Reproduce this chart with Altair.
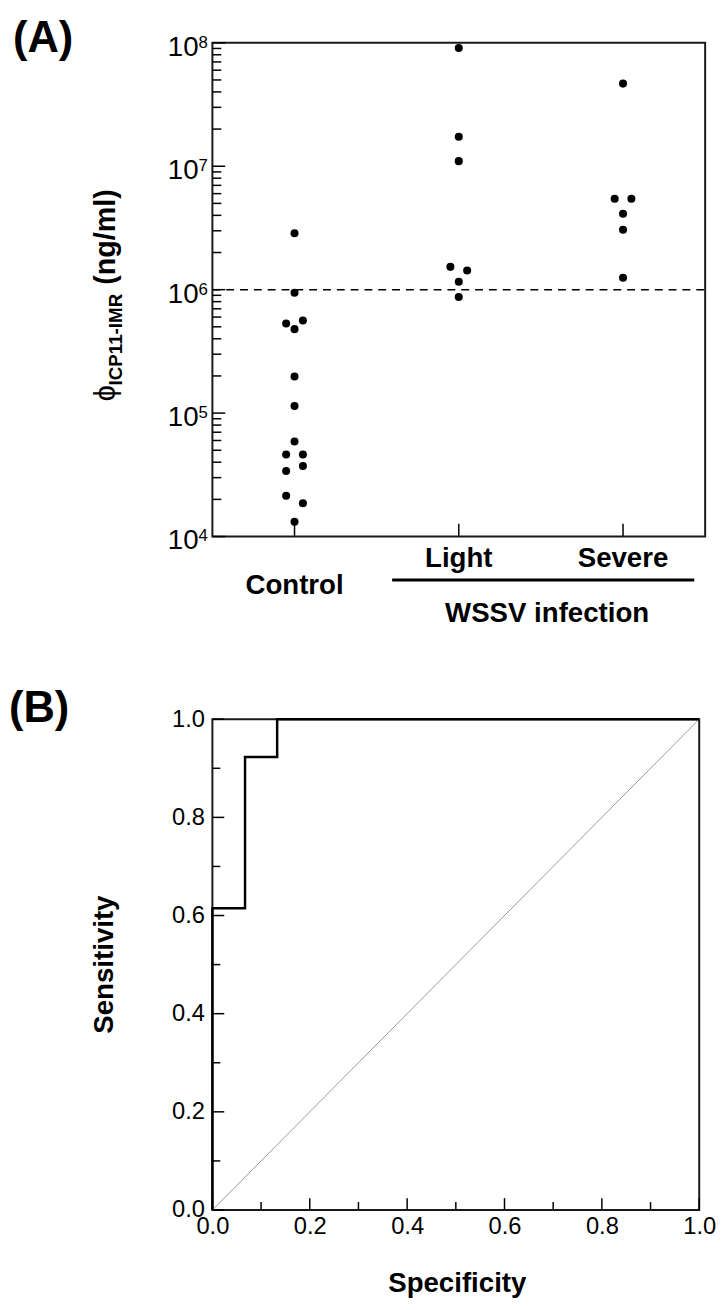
import altair as alt
import pandas as pd

FONT = "Liberation Sans"

# ---------------- Panel A data ----------------
groups = ["Control", "Light", "Severe"]
control_vals = [2.86e6, 9.46e5, 5.31e5, 4.79e5, 5.62e5, 1.98e5, 1.14e5, 5.89e4,
                4.61e4, 4.61e4, 3.39e4, 3.72e4, 2.14e4, 1.86e4, 1.32e4]
control_side = [0, 0, -1, 0, 1, 0, 0, 0, -1, 1, -1, 1, -1, 1, 0]
light_vals = [9.07e7, 1.73e7, 1.10e7, 1.53e6, 1.43e6, 1.16e6, 8.74e5]
light_side = [0, 0, 0, -1, 1, 0, 0]
severe_vals = [4.67e7, 5.45e6, 5.45e6, 4.13e6, 3.06e6, 1.25e6]
severe_side = [0, -1, 1, 0, 0, 0]
cutoff = [1.0e6]
decade_exps = [4, 5, 6, 7, 8]
minor_mult = [2, 3, 4, 5, 6, 7, 8, 9]

# ---------------- Panel B data ----------------
roc_fpr = [0.0, 0.0, 0.067, 0.067, 0.133, 0.133, 1.0]
roc_tpr = [0.0, 0.615, 0.615, 0.923, 0.923, 1.0, 1.0]
diag = [0.0, 1.0]
b_major = [0.0, 0.2, 0.4, 0.6, 0.8, 1.0]
b_minor = [0.1, 0.3, 0.5, 0.7, 0.9]

# ---------------- Panel A ----------------
WA, HA = 499, 500
rows = []
for g, vals, sides in [("Control", control_vals, control_side),
                       ("Light", light_vals, light_side),
                       ("Severe", severe_vals, severe_side)]:
    for v, s in zip(vals, sides):
        rows.append({"group": g, "value": v, "pos": groups.index(g) + s * 0.051})
pts = pd.DataFrame(rows)

ysA = alt.Scale(type="log", domain=[1e4, 1e8], nice=False)
xsA = alt.Scale(domain=[-0.5, 2.5], nice=False, zero=False)

dec_df = pd.DataFrame({"v": [10.0 ** e for e in decade_exps],
                       "exp": [str(e) for e in decade_exps]})
minor_df = pd.DataFrame({"v": [m * 10.0 ** e for e in decade_exps[:-1] for m in minor_mult]})
grp_df = pd.DataFrame({"group": groups, "idx": list(range(len(groups)))})
cut_df = pd.DataFrame({"v": cutoff})

def yA(f):
    return alt.Y(f, scale=ysA, axis=None)

def xA(f):
    return alt.X(f, scale=xsA, axis=None)

a_points = alt.Chart(pts).mark_circle(size=66, color="black", opacity=1).encode(
    x=xA("pos:Q"), y=yA("value:Q"))
a_cut = alt.Chart(cut_df).mark_rule(color="black", strokeWidth=1.5, strokeDash=[8, 6]).encode(
    y=yA("v:Q"), x=alt.value(0), x2=alt.value(WA))
a_major = alt.Chart(dec_df).mark_rule(color="black", strokeWidth=1.5).encode(
    y=yA("v:Q"), x=alt.value(0), x2=alt.value(13))
a_minor = alt.Chart(minor_df).mark_rule(color="black", strokeWidth=1.5).encode(
    y=yA("v:Q"), x=alt.value(0), x2=alt.value(9))
a_xticks = alt.Chart(grp_df).mark_rule(color="black", strokeWidth=1.5).encode(
    x=xA("idx:Q"), y=alt.value(HA), y2=alt.value(HA - 13))
a_lab10 = alt.Chart(dec_df).mark_text(text="10", align="right", baseline="alphabetic", dy=13,
                                      fontSize=28, font=FONT, color="black").encode(
    y=yA("v:Q"), x=alt.value(-14))
a_labexp = alt.Chart(dec_df).mark_text(align="left", baseline="alphabetic", dy=5,
                                       fontSize=17, font=FONT, color="black").encode(
    y=yA("v:Q"), x=alt.value(-14), text="exp:N")
a_catctl = alt.Chart(grp_df).transform_filter(alt.datum.group == "Control").mark_text(
    align="center", baseline="alphabetic", fontSize=28, fontWeight="bold", font=FONT,
    color="black").encode(x=xA("idx:Q"), y=alt.value(558), text="group:N")
a_catinf = alt.Chart(grp_df).transform_filter(alt.datum.group != "Control").mark_text(
    align="center", baseline="alphabetic", fontSize=28, fontWeight="bold", font=FONT,
    color="black").encode(x=xA("idx:Q"), y=alt.value(531), text="group:N")
one = pd.DataFrame({"t": ["WSSV infection"]})
a_bar = alt.Chart(one).mark_rule(color="black", strokeWidth=3).encode(
    x=alt.value(182), x2=alt.value(488), y=alt.value(544))
a_wssv = alt.Chart(one).mark_text(align="center", baseline="alphabetic", fontSize=28,
                                  fontWeight="bold", font=FONT, color="black").encode(
    x=alt.value(339), y=alt.value(587), text="t:N")
a_phi = alt.Chart(pd.DataFrame({"t": ["ϕ"]})).mark_text(
    align="left", baseline="alphabetic", angle=270, fontSize=29, font=FONT,
    color="black").encode(x=alt.value(-99), y=alt.value(363), text="t:N")
a_sub = alt.Chart(pd.DataFrame({"t": ["ICP11-IMR"]})).mark_text(
    align="left", baseline="alphabetic", angle=270, fontSize=19, fontWeight="bold",
    font=FONT, color="black").encode(x=alt.value(-92), y=alt.value(347), text="t:N")
a_unit = alt.Chart(pd.DataFrame({"t": ["(ng/ml)"]})).mark_text(
    align="left", baseline="alphabetic", angle=270, fontSize=29, fontWeight="bold",
    font=FONT, color="black").encode(x=alt.value(-99), y=alt.value(245), text="t:N")
a_tag = alt.Chart(pd.DataFrame({"t": ["(A)"]})).mark_text(
    align="left", baseline="top", fontSize=44, fontWeight="bold", font=FONT,
    color="black").encode(x=alt.value(-202), y=alt.value(-26), text="t:N")

panelA = alt.layer(a_cut, a_minor, a_major, a_xticks, a_points, a_lab10, a_labexp,
                   a_catctl, a_catinf, a_bar, a_wssv, a_phi, a_sub, a_unit, a_tag
                   ).properties(width=WA, height=HA)

# ---------------- Panel B ----------------
WB, HB = 493, 497
xsB = alt.Scale(domain=[0, 1], nice=False, zero=False)
ysB = alt.Scale(domain=[0, 1], nice=False, zero=False)
axBx = alt.Axis(values=b_major, format=".1f", labelFontSize=24, labelFont=FONT,
                labelColor="black", ticks=False, domain=False, grid=False, title=None,
                labelPadding=5, labelFlush=False)
axBy = alt.Axis(values=b_major, format=".1f", labelFontSize=24, labelFont=FONT,
                labelColor="black", ticks=False, domain=False, grid=False, title=None,
                labelPadding=8, labelFlush=False)

def xB(f):
    return alt.X(f, scale=xsB, axis=axBx)

def yB(f):
    return alt.Y(f, scale=ysB, axis=axBy)

diag_df = pd.DataFrame({"x": diag, "y": diag})
roc_df = pd.DataFrame({"x": roc_fpr, "y": roc_tpr, "i": list(range(len(roc_fpr)))})
bmaj_df = pd.DataFrame({"v": b_major})
bmin_df = pd.DataFrame({"v": b_minor})

b_diag = alt.Chart(diag_df).mark_line(color="#9a9a9a", strokeWidth=1).encode(
    x=xB("x:Q"), y=yB("y:Q"))
b_roc = alt.Chart(roc_df).mark_line(color="black", strokeWidth=2.5).encode(
    x=xB("x:Q"), y=yB("y:Q"), order="i:Q")
b_lmaj = alt.Chart(bmaj_df).mark_rule(color="black", strokeWidth=1.5).encode(
    y=yB("v:Q"), x=alt.value(0), x2=alt.value(12))
b_lmin = alt.Chart(bmin_df).mark_rule(color="black", strokeWidth=1.5).encode(
    y=yB("v:Q"), x=alt.value(0), x2=alt.value(8))
b_bmaj = alt.Chart(bmaj_df).mark_rule(color="black", strokeWidth=1.5).encode(
    x=xB("v:Q"), y=alt.value(HB), y2=alt.value(HB - 12))
b_bmin = alt.Chart(bmin_df).mark_rule(color="black", strokeWidth=1.5).encode(
    x=xB("v:Q"), y=alt.value(HB), y2=alt.value(HB - 8))
b_sens = alt.Chart(pd.DataFrame({"t": ["Sensitivity"]})).mark_text(
    align="center", baseline="alphabetic", angle=270, fontSize=28, fontWeight="bold",
    font=FONT, color="black").encode(x=alt.value(-101), y=alt.value(HB / 2), text="t:N")
b_spec = alt.Chart(pd.DataFrame({"t": ["Specificity"]})).mark_text(
    align="center", baseline="alphabetic", fontSize=28, fontWeight="bold",
    font=FONT, color="black").encode(x=alt.value(248), y=alt.value(580), text="t:N")
b_tag = alt.Chart(pd.DataFrame({"t": ["(B)"]})).mark_text(
    align="left", baseline="top", fontSize=44, fontWeight="bold", font=FONT,
    color="black").encode(x=alt.value(-206), y=alt.value(-32), text="t:N")

panelB = alt.layer(b_diag, b_lmin, b_lmaj, b_bmin, b_bmaj, b_roc, b_sens, b_spec, b_tag
                   ).properties(width=WB, height=HB)

chart = alt.ConcatChart(concat=[panelA, panelB], columns=1, spacing=58, align="none",
                        padding=0).configure_view(stroke="#1a1a1a", strokeWidth=2)

chart.save("out.html", embed_options={"renderer": "svg", "actions": False})
